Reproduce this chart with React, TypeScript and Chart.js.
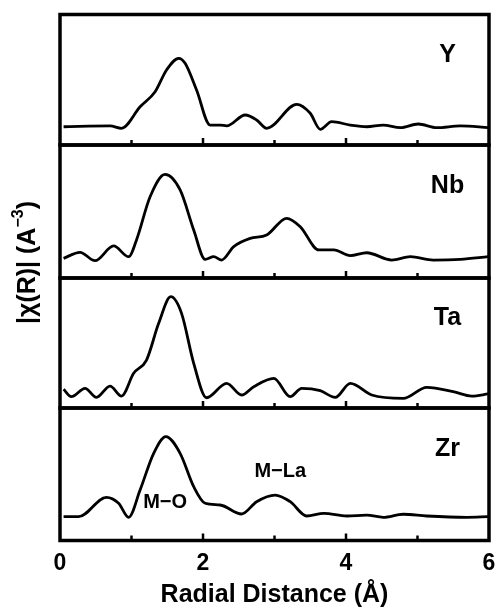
import React, { useEffect, useRef } from "react";
import { Chart, registerables } from "chart.js";

Chart.register(...registerables);

// ---- data (Radial distance in Å, |χ(R)| in arbitrary units per panel) ----
const panelNames = ["Y", "Nb", "Ta", "Zr"];
const xTicks = [0, 2, 4, 6];
const minorTicks = [1, 3, 5];
const majorTicks = [2, 4];

const rY = [0.05, 0.7, 0.86, 1.12, 1.33, 1.49, 1.66, 1.75, 1.91, 2.1, 2.24, 2.33, 2.59, 2.75, 2.89, 3.31, 3.5, 3.64, 3.8, 4.06, 4.29, 4.52, 4.76, 5.01, 5.27, 5.6, 5.99];
const vY = [1.4, 1.46, 1.28, 2.93, 4.08, 5.75, 6.64, 6.26, 4.21, 1.53, 1.53, 1.46, 2.3, 1.92, 1.28, 3.12, 2.43, 1.2, 1.79, 1.53, 1.4, 1.53, 1.33, 1.61, 1.33, 1.46, 1.33];

const rNb = [0.05, 0.28, 0.49, 0.75, 0.96, 1.07, 1.26, 1.47, 1.68, 1.87, 2.03, 2.15, 2.26, 2.43, 2.66, 2.89, 3.17, 3.36, 3.62, 3.83, 4.06, 4.29, 4.64, 4.9, 5.22, 5.6, 5.99];
const vNb = [1.48, 1.93, 1.3, 2.41, 1.6, 2.86, 6.11, 7.79, 6.62, 3.61, 1.4, 1.6, 1.35, 2.36, 2.98, 3.23, 4.49, 3.86, 2.11, 2.11, 1.68, 1.9, 1.35, 1.6, 1.35, 1.4, 1.6];

const rTa = [0.05, 0.16, 0.35, 0.51, 0.7, 0.86, 1.03, 1.21, 1.38, 1.55, 1.7, 1.87, 2.05, 2.33, 2.54, 2.71, 2.99, 3.22, 3.38, 3.64, 3.85, 4.06, 4.36, 4.8, 5.13, 5.5, 5.76, 5.99];
const vTa = [1.44, 0.87, 1.51, 0.82, 1.69, 0.92, 2.67, 3.69, 6.51, 8.56, 7.28, 3.44, 0.79, 1.9, 1.0, 1.64, 2.28, 0.87, 1.51, 1.33, 0.82, 1.9, 1.0, 0.74, 1.59, 1.26, 0.92, 1.08];

const rZr = [0.05, 0.26, 0.65, 0.82, 0.96, 1.12, 1.31, 1.48, 1.68, 1.87, 2.03, 2.24, 2.54, 2.75, 3.01, 3.22, 3.45, 3.69, 4.01, 4.29, 4.52, 4.8, 5.13, 5.69, 5.99];
const vZr = [1.8, 1.8, 3.26, 2.81, 1.75, 3.81, 6.58, 7.84, 6.58, 4.06, 2.81, 2.68, 2.0, 2.93, 3.43, 2.93, 1.85, 2.05, 1.85, 1.92, 1.75, 1.98, 1.85, 1.75, 1.8];

const panelWeights = [130.5, 133, 130, 132.5];
const panelLabelPos = [5.42, 6.9];
const annotTexts = ["M\u2212O", "M\u2212La"];
const annotX = [1.47, 3.08];
const annotY = [2.85, 5.19];

const FONT = "Arial, 'Liberation Sans', Helvetica, sans-serif";

const series = [
  { id: "yY", r: rY, v: vY },
  { id: "yNb", r: rNb, v: vNb },
  { id: "yTa", r: rTa, v: vTa },
  { id: "yZr", r: rZr, v: vZr },
];

const panelPlugin = {
  id: "panelFrames",
  afterDatasetsDraw(chart: any) {
    const { ctx, chartArea, scales } = chart;
    const xs = scales.x;
    ctx.save();
    ctx.strokeStyle = "#000";
    series.forEach((s, i) => {
      const ys = scales[s.id];
      ctx.lineWidth = 3.5;
      ctx.strokeRect(chartArea.left, ys.top, chartArea.right - chartArea.left, ys.bottom - ys.top);
      ctx.lineWidth = 2.5;
      ctx.lineCap = "butt";
      minorTicks.forEach((t) => {
        const px = xs.getPixelForValue(t);
        ctx.beginPath();
        ctx.moveTo(px, ys.bottom);
        ctx.lineTo(px, ys.bottom - 5);
        ctx.stroke();
      });
      majorTicks.forEach((t) => {
        const px = xs.getPixelForValue(t);
        ctx.beginPath();
        ctx.moveTo(px, ys.bottom);
        ctx.lineTo(px, ys.bottom - 7);
        ctx.stroke();
      });
      // panel label
      ctx.fillStyle = "#000";
      ctx.font = `bold 25px ${FONT}`;
      ctx.textAlign = "center";
      ctx.textBaseline = "middle";
      ctx.fillText(panelNames[i], xs.getPixelForValue(panelLabelPos[0]), ys.getPixelForValue(panelLabelPos[1]));
    });
    // annotations in Zr panel
    const yz = scales.yZr;
    ctx.font = `bold 20px ${FONT}`;
    annotTexts.forEach((t, i) => {
      ctx.fillText(t, xs.getPixelForValue(annotX[i]), yz.getPixelForValue(annotY[i]));
    });
    // y-axis title
    const cy = (chartArea.top + chartArea.bottom) / 2 - 15;
    ctx.translate(28, cy);
    ctx.rotate(-Math.PI / 2);
    const main = "|\u03C7(R)| (A";
    const sup = "\u22123";
    const end = ")";
    ctx.font = `bold 25px ${FONT}`;
    const w1 = ctx.measureText(main).width;
    const w3 = ctx.measureText(end).width;
    ctx.font = `bold 16px ${FONT}`;
    const w2 = ctx.measureText(sup).width;
    const total = w1 + w2 + w3;
    let x0 = -total / 2;
    ctx.textAlign = "left";
    ctx.textBaseline = "middle";
    ctx.font = `bold 25px ${FONT}`;
    ctx.fillText(main, x0, 0);
    ctx.font = `bold 16px ${FONT}`;
    ctx.fillText(sup, x0 + w1, -9);
    ctx.font = `bold 25px ${FONT}`;
    ctx.fillText(end, x0 + w1 + w2, 0);
    ctx.restore();
  },
};

export default function App() {
  const ref = useRef<HTMLCanvasElement | null>(null);
  useEffect(() => {
    if (!ref.current) return;
    const yScale = (w: number) => ({
      type: "linear",
      position: "left",
      stack: "panels",
      stackWeight: w,
      min: 0,
      max: 10,
      ticks: { display: false },
      grid: { display: false, drawTicks: false },
      border: { display: false },
    });
    const scales: any = {
      x: {
        type: "linear",
        min: 0,
        max: 6,
        position: "bottom",
        grid: { display: false, drawTicks: false },
        border: { display: false },
        afterBuildTicks: (s: any) => {
          s.ticks = xTicks.map((v) => ({ value: v }));
        },
        afterFit: (s: any) => {
          s.paddingLeft = 0;
          s.paddingRight = 0;
          s.height = 67.5;
        },
        ticks: {
          color: "#000",
          padding: 9,
          maxRotation: 0,
          autoSkip: false,
          font: { family: FONT, size: 23, weight: "bold" },
        },
        title: {
          display: true,
          text: "Radial Distance (\u00C5)",
          color: "#000",
          padding: { top: 2, bottom: 0 },
          font: { family: FONT, size: 25, weight: "bold", lineHeight: 1.0 },
        },
      },
    };
    // stacked scales are placed bottom-up, so register the bottom panel first
    for (let i = series.length - 1; i >= 0; i--) {
      scales[series[i].id] = yScale(panelWeights[i]);
    }
    const chart = new Chart(ref.current, {
      type: "line",
      data: {
        datasets: series.map((s) => ({
          label: s.id,
          data: s.r.map((r, k) => ({ x: r, y: s.v[k] })),
          yAxisID: s.id,
          xAxisID: "x",
          borderColor: "#000",
          borderWidth: 2.8,
          pointRadius: 0,
          fill: false,
          cubicInterpolationMode: "monotone",
        })),
      },
      options: {
        responsive: false,
        animation: false,
        layout: { padding: { left: 60, right: 6, top: 14.5, bottom: 0 } },
        plugins: { legend: { display: false }, tooltip: { enabled: false } },
        scales,
      } as any,
      plugins: [panelPlugin],
    } as any);
    return () => chart.destroy();
  }, []);
  return (
    <div style={{ position: "absolute", left: 0, top: 0, width: 495, height: 608, background: "#fff" }}>
      <canvas ref={ref} width={495} height={608} />
    </div>
  );
}
